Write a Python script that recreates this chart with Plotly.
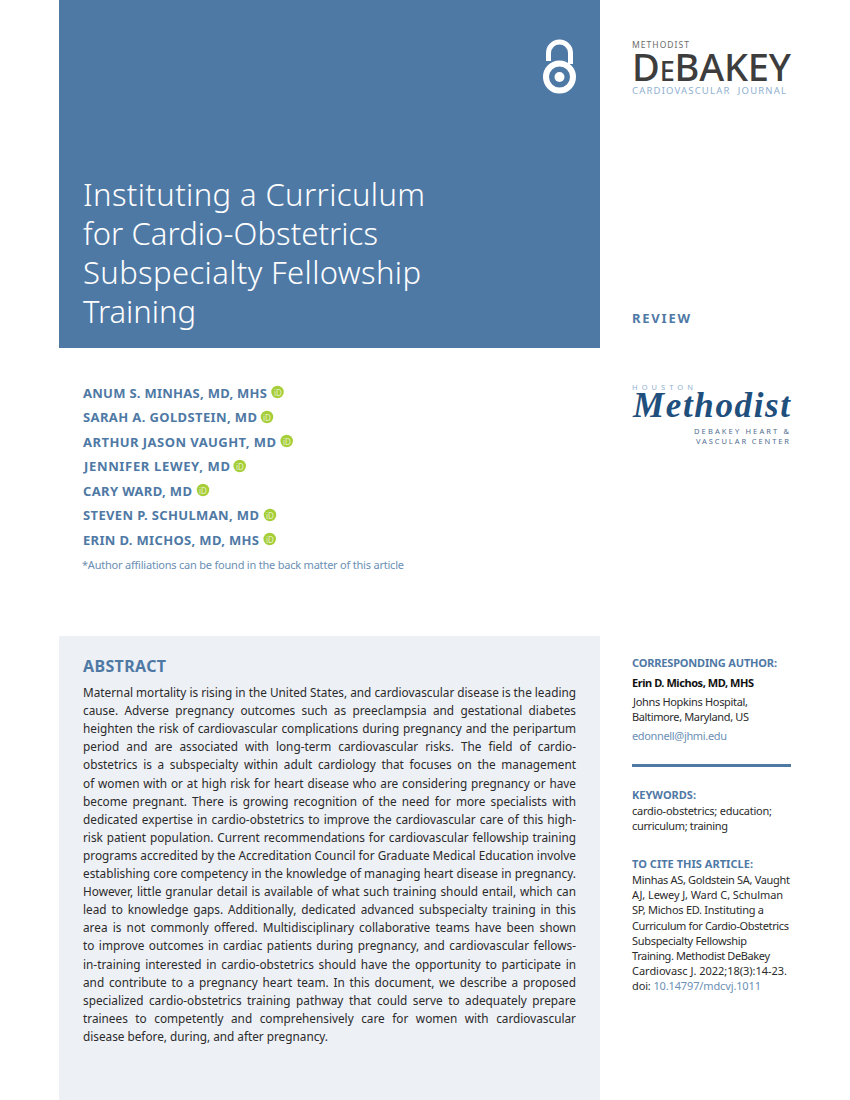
import json
import plotly.graph_objects as go

BLUE = "#4f79a5"
PANEL = "#edf0f5"
LINK = "#6b8fb5"
INK = "#2b2b2b"
SANS = "Noto Sans"

title_lines = ["Instituting a Curriculum", "for Cardio-Obstetrics", "Subspecialty Fellowship", "Training"]
title_ys = [193.7, 232.7, 271.7, 310.7]
title_widths = [342, 295, 338, 113]

authors = ["ANUM S. MINHAS, MD, MHS", "SARAH A. GOLDSTEIN, MD", "ARTHUR JASON VAUGHT, MD",
           "JENNIFER LEWEY, MD", "CARY WARD, MD", "STEVEN P. SCHULMAN, MD", "ERIN D. MICHOS, MD, MHS"]
author_ys = [393, 417.3, 441.8, 466.2, 490.8, 515.2, 539.8]
author_widths = [184, 174, 193, 146, 109, 176, 176]
orcid_xs = [277.5, 267, 286.7, 239.7, 203, 270, 269.7]
orcid_ys = [392, 417, 441, 466, 490, 515, 539]

abstract_lines = [
    "Maternal mortality is rising in the United States, and cardiovascular disease is the leading",
    "cause. Adverse pregnancy outcomes such as preeclampsia and gestational diabetes",
    "heighten the risk of cardiovascular complications during pregnancy and the peripartum",
    "period and are associated with long-term cardiovascular risks. The field of cardio-",
    "obstetrics is a subspecialty within adult cardiology that focuses on the management",
    "of women with or at high risk for heart disease who are considering pregnancy or have",
    "become pregnant. There is growing recognition of the need for more specialists with",
    "dedicated expertise in cardio-obstetrics to improve the cardiovascular care of this high-",
    "risk patient population. Current recommendations for cardiovascular fellowship training",
    "programs accredited by the Accreditation Council for Graduate Medical Education involve",
    "establishing core competency in the knowledge of managing heart disease in pregnancy.",
    "However, little granular detail is available of what such training should entail, which can",
    "lead to knowledge gaps. Additionally, dedicated advanced subspecialty training in this",
    "area is not commonly offered. Multidisciplinary collaborative teams have been shown",
    "to improve outcomes in cardiac patients during pregnancy, and cardiovascular fellows-",
    "in-training interested in cardio-obstetrics should have the opportunity to participate in",
    "and contribute to a pregnancy heart team. In this document, we describe a proposed",
    "specialized cardio-obstetrics training pathway that could serve to adequately prepare",
    "trainees to competently and comprehensively care for women with cardiovascular",
    "disease before, during, and after pregnancy.",
]

cite_lines = ["Minhas AS, Goldstein SA, Vaught", "AJ, Lewey J, Ward C, Schulman", "SP, Michos ED. Instituting a",
              "Curriculum for Cardio-Obstetrics", "Subspecialty Fellowship", "Training. Methodist DeBakey",
              "Cardiovasc J. 2022;18(3):14-23.", f"doi: <span style='color:{LINK}'>10.14797/mdcvj.1011</span>"]
cite_ys = [879, 894, 909, 925, 940, 955, 970, 985]
cite_widths = [158, 151, 132, 157, 115, 138, 155, 129]

fit = []  # [annotation index, target width, mode]
ann = []


def put(text, x, y, size, color, weight=400, family=SANS, width=None, mode="letter", anchor="left", style="normal"):
    if width is not None:
        fit.append([len(ann), width, mode])
    ann.append(dict(text=text, x=x, y=y, xref="x", yref="y", showarrow=False, xanchor=anchor, yanchor="middle",
                    align=anchor, borderpad=0,
                    font=dict(size=size, color=color, family=family, weight=weight, style=style)))


for t, y, w in zip(title_lines, title_ys, title_widths):
    put(t, 82, y, 31, "#ffffff", 300, SANS, w)
for t, y, w in zip(authors, author_ys, author_widths):
    put(t, 82, y, 13, BLUE, 700, SANS, w)
for xo, yo in zip(orcid_xs, orcid_ys):
    put("iD", xo, yo, 8, "#e6f0c8", 400, SANS, None, anchor="center")
put("*Author affiliations can be found in the back matter of this article", 81, 564.5, 11, LINK, 400, SANS, 322)

put("ABSTRACT", 82, 666, 16, BLUE, 700, SANS, 83)
for i, t in enumerate(abstract_lines):
    last = i == len(abstract_lines) - 1
    put(t, 82, 692 + i * 18.1, 11.8, INK, 400, SANS, 245 if last else 493, "letter" if last else "word")

put("REVIEW", 631, 318, 13, BLUE, 700, SANS, 58)
put("CORRESPONDING AUTHOR:", 631, 662.5, 11, BLUE, 700, SANS, 145)
put("Erin D. Michos, MD, MHS", 631, 682.5, 11, "#111111", 700, SANS, 122)
put("Johns Hopkins Hospital,", 631, 701.5, 11, INK, 400, SANS, 115)
put("Baltimore, Maryland, US", 631, 716.5, 11, INK, 400, SANS, 117)
put("edonnell@jhmi.edu", 631, 735.5, 11, LINK, 400, SANS, 95)
put("KEYWORDS:", 631, 794.5, 11, BLUE, 700, SANS, 64)
put("cardio-obstetrics; education;", 631, 810.5, 11, INK, 400, SANS, 140)
put("curriculum; training", 631, 825.5, 11, INK, 400, SANS, 96)
put("TO CITE THIS ARTICLE:", 631, 863.5, 11, BLUE, 700, SANS, 121)
for t, y, w in zip(cite_lines, cite_ys, cite_widths):
    put(t, 631, y, 11, INK, 400, SANS, w)

put("METHODIST", 631, 44.5, 8.5, "#6b6b6b", 400, SANS, 57)
put("D<span style='font-size:27px'>E</span>BAKEY", 631, 66, 38, "#3d3d3d", 500, SANS, 159)
put("CARDIOVASCULAR  JOURNAL", 631, 90.5, 9.5, "#8fb0d0", 400, SANS, 154)
put("HOUSTON", 631, 386.5, 7.5, "#8fb0d0", 400, SANS, 61)
put("Methodist", 631, 405, 35, "#1f4f7d", 700, "Liberation Serif", 157, style="italic")
put("DEBAKEY HEART &amp;", 692.5, 431, 7.5, "#4f6d8f", 400, SANS, 95)
put("VASCULAR CENTER", 694.5, 441, 7.5, "#4f6d8f", 400, SANS, 93)

k = 0.5523
cx, cy, r = 559.5, 53, 11
shackle = (f"M {cx-r} 61 L {cx-r} {cy} C {cx-r} {cy-k*r} {cx-k*r} {cy-r} {cx} {cy-r} "
           f"C {cx+k*r} {cy-r} {cx+r} {cy-k*r} {cx+r} {cy} L {cx+r} 64")

shapes = [
    dict(type="rect", x0=59, x1=600, y0=0, y1=348, fillcolor=BLUE, line_width=0, layer="below"),
    dict(type="rect", x0=59, x1=600, y0=636, y1=1100, fillcolor=PANEL, line_width=0, layer="below"),
    dict(type="rect", x0=632, x1=791, y0=764, y1=767, fillcolor=BLUE, line_width=0, layer="below"),
    dict(type="path", path=shackle, line=dict(color="#ffffff", width=5), layer="above"),
    dict(type="circle", x0=546, x1=573, y0=63.5, y1=90.5, line=dict(color="#ffffff", width=6), layer="above"),
    dict(type="circle", x0=554.5, x1=564.5, y0=72, y1=82, fillcolor="#ffffff", line_width=0, layer="above"),
]

fig = go.Figure(go.Scatter(x=orcid_xs, y=orcid_ys, mode="markers", hoverinfo="skip",
                           marker=dict(size=12.5, color="#a6ce39")))
fig.update_layout(width=850, height=1100, margin=dict(l=0, r=0, t=0, b=0), autosize=False, showlegend=False,
                  paper_bgcolor="#ffffff", plot_bgcolor="#ffffff", shapes=shapes, annotations=ann,
                  xaxis=dict(range=[0, 850], visible=False, fixedrange=True),
                  yaxis=dict(range=[1100, 0], visible=False, fixedrange=True))

post = """
var fit = %s;
document.body.style.margin = '0';
var root = document.getElementById('{plot_id}');
function apply() {
  fit.forEach(function (f) {
    var g = root.querySelector('.annotation[data-index="' + f[0] + '"] text');
    if (!g) return;
    g.removeAttribute('word-spacing'); g.removeAttribute('letter-spacing');
    var len = g.getComputedTextLength(), s = g.textContent;
    if (f[2] === 'word') {
      g.setAttribute('word-spacing', (f[1] - len) / (s.split(' ').length - 1));
    } else {
      g.setAttribute('letter-spacing', (f[1] - len) / (s.length - 1));
    }
  });
}
apply();
if (document.fonts && document.fonts.ready) document.fonts.ready.then(apply);
""" % json.dumps(fit)

fig.write_html("out.html", post_script=post, config={"displayModeBar": False})
